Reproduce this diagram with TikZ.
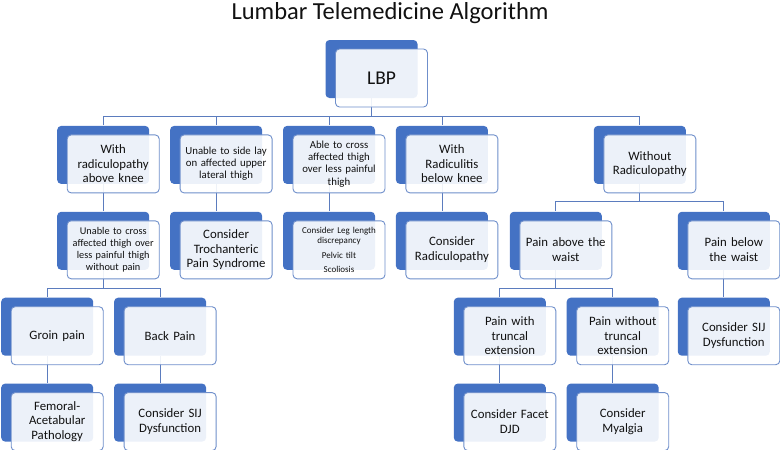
\documentclass[tikz,border=0pt]{standalone}
\usepackage{fontspec}
\setmainfont{Carlito}
\usepackage{tikz}
\usetikzlibrary{
  positioning,
  shadows,
  backgrounds
}
\definecolor{smblue}{HTML}{4472C4}
\definecolor{edgeblue}{HTML}{6F8FCB}
\definecolor{lineblue}{HTML}{5B7CBE}
\definecolor{textgray}{HTML}{111111}

\begin{document}
\begin{tikzpicture}[node distance = 27pt and 20pt,
    box/.style = {draw=edgeblue, line width=0.9pt, rounded corners=4pt,
      fill=white, fill opacity=0.9, text opacity=1, text=textgray,
      align=center, text width=88pt, inner xsep=2pt, inner ysep=1pt,
      minimum height=58pt, font=\fontsize{12.8}{14.6}\selectfont,
      general shadow={fill=smblue, fill opacity=1, draw=none,
        shadow xshift=-10pt, shadow yshift=9pt}},
    small/.style = {font=\fontsize{10.8}{12.2}\selectfont},
    link/.style = {draw=lineblue, line width=0.8pt}]
    \useasboundingbox (0,0) rectangle (780pt,-450pt);

    \node[anchor=base,text=textgray] (title) at (390pt,-19.5pt)
      {\fontsize{24.5}{28}\selectfont Lumbar Telemedicine Algorithm};

    \node[box,font=\fontsize{19.5}{24}\selectfont] (lbp) at (381.5pt,-78pt) {LBP};

    \node[box,small,below = of lbp,xshift=-42.5pt] (a3) {Able to cross\\affected thigh\\over less painful\\thigh};
    \node[box,small,left = of a3] (a2) {Unable to side lay\\on affected upper\\lateral thigh};
    \node[box,left = of a2] (a1) {With\\radiculopathy\\above knee};
    \node[box,right = of a3] (a4) {With\\Radiculitis\\below knee};
    \node[box,right = of a4,xshift=85pt] (a5) {Without\\Radiculopathy};

    \node[box,font=\fontsize{10.3}{11.7}\selectfont,below = of a1] (b1) {Unable to cross\\affected thigh over\\less painful thigh\\without pain};
    \node[box,below = of a2] (b2) {Consider\\Trochanteric\\Pain Syndrome};
    \node[box,font=\fontsize{9}{10.3}\selectfont,below = of a3] (b3) {Consider Leg length\\discrepancy\\[4pt] Pelvic tilt\\[4pt] Scoliosis};
    \node[box,below = of a4] (b4) {Consider\\Radiculopathy};
    \node[box,below = of a5,xshift=-84pt] (b5) {Pain above the\\waist};
    \node[box,below = of a5,xshift=84pt] (b6) {Pain below\\the waist};

    \node[box,below = of b1,xshift=-56pt] (c1) {Groin pain};
    \node[box,right = of c1] (c2) {Back Pain};
    \node[box,below = of b5,xshift=-56pt] (c3) {Pain with\\truncal\\extension};
    \node[box,right = of c3] (c4) {Pain without\\truncal\\extension};
    \node[box,below = of b6] (c5) {Consider SIJ\\Dysfunction};

    \node[box,below = of c1] (d1) {Femoral-\\Acetabular\\Pathology};
    \node[box,below = of c2] (d2) {Consider SIJ\\Dysfunction};
    \node[box,below = of c3] (d3) {Consider Facet\\DJD};
    \node[box,below = of c4] (d4) {Consider\\Myalgia};

    % connectors (behind the boxes)
    \begin{scope}[on background layer]
    \draw[link] ([shift={(-10pt,9pt)}]lbp.south) -- ++(0,-18pt) -| ([shift={(-10pt,9pt)}]a1.north);
    \draw[link] ([shift={(-10pt,9pt)}]lbp.south) -- ++(0,-18pt) -| ([shift={(-10pt,9pt)}]a2.north);
    \draw[link] ([shift={(-10pt,9pt)}]lbp.south) -- ++(0,-18pt) -| ([shift={(-10pt,9pt)}]a3.north);
    \draw[link] ([shift={(-10pt,9pt)}]lbp.south) -- ++(0,-18pt) -| ([shift={(-10pt,9pt)}]a4.north);
    \draw[link] ([shift={(-10pt,9pt)}]lbp.south) -- ++(0,-18pt) -| ([shift={(-10pt,9pt)}]a5.north);

    \draw[link] ([shift={(-10pt,9pt)}]a1.south) -- ([shift={(-10pt,9pt)}]b1.north);
    \draw[link] ([shift={(-10pt,9pt)}]a2.south) -- ([shift={(-10pt,9pt)}]b2.north);
    \draw[link] ([shift={(-10pt,9pt)}]a3.south) -- ([shift={(-10pt,9pt)}]b3.north);
    \draw[link] ([shift={(-10pt,9pt)}]a4.south) -- ([shift={(-10pt,9pt)}]b4.north);
    \draw[link] ([shift={(-10pt,9pt)}]a5.south) -- ++(0,-17pt) -| ([shift={(-10pt,9pt)}]b5.north);
    \draw[link] ([shift={(-10pt,9pt)}]a5.south) -- ++(0,-17pt) -| ([shift={(-10pt,9pt)}]b6.north);

    \draw[link] ([shift={(-10pt,9pt)}]b1.south) -- ++(0,-18pt) -| ([shift={(-10pt,9pt)}]c1.north);
    \draw[link] ([shift={(-10pt,9pt)}]b1.south) -- ++(0,-18pt) -| ([shift={(-10pt,9pt)}]c2.north);
    \draw[link] ([shift={(-10pt,9pt)}]b5.south) -- ++(0,-18pt) -| ([shift={(-10pt,9pt)}]c3.north);
    \draw[link] ([shift={(-10pt,9pt)}]b5.south) -- ++(0,-18pt) -| ([shift={(-10pt,9pt)}]c4.north);
    \draw[link] ([shift={(-10pt,9pt)}]b6.south) -- ([shift={(-10pt,9pt)}]c5.north);

    \draw[link] ([shift={(-10pt,9pt)}]c1.south) -- ([shift={(-10pt,9pt)}]d1.north);
    \draw[link] ([shift={(-10pt,9pt)}]c2.south) -- ([shift={(-10pt,9pt)}]d2.north);
    \draw[link] ([shift={(-10pt,9pt)}]c3.south) -- ([shift={(-10pt,9pt)}]d3.north);
    \draw[link] ([shift={(-10pt,9pt)}]c4.south) -- ([shift={(-10pt,9pt)}]d4.north);
    \end{scope}
  \end{tikzpicture}
\end{document}
